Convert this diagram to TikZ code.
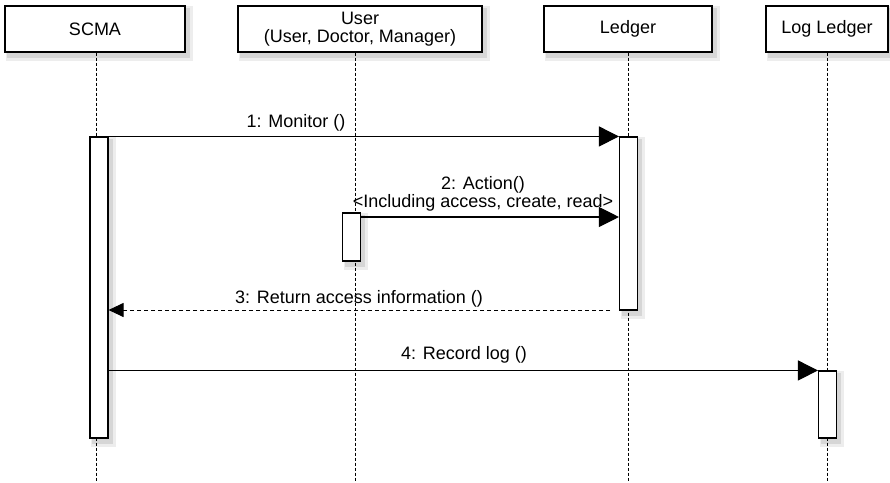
\documentclass[tikz,border=0pt]{standalone}
\usepackage{fontspec}
\setmainfont{Liberation Sans}
\usetikzlibrary{arrows.meta,backgrounds}
\pgfdeclarelayer{shade}
\pgfsetlayers{background,shade,main}
\begin{document}
\begin{tikzpicture}[x=1pt,y=-1pt,
  font=\fontsize{18}{18}\selectfont,
  head/.style={draw,line width=1.1pt,fill=white,minimum height=46pt,inner sep=0pt,align=center},
  bar/.style={draw,line width=1.1pt,fill=white,minimum width=18pt,inner sep=0pt},
  life/.style={line width=0.8pt,dash pattern=on 3pt off 2pt},
  msg/.style={line width=1.1pt,-{Triangle[length=20pt,width=20pt]}},
  ret/.style={line width=1pt,dash pattern=on 4pt off 3pt,-{Triangle[length=15pt,width=14pt]}},
  lbl/.style={inner sep=0pt,align=center},
  shadeA/.style={fill=black!7},
  shadeB/.style={fill=black!16}]
\begin{pgfonlayer}{background}
\path[fill=white] (0,0) rectangle (890,482);
\end{pgfonlayer}
\useasboundingbox (0,0) rectangle (890,482);
% heads
\node[head,minimum width=180pt] (scma) at (95,29) {SCMA};
\node[head,minimum width=244pt] (user) at (360,29) {User\\(User, Doctor, Manager)};
\node[head,minimum width=168pt] (ledger) at (628,29) {Ledger};
\node[head,minimum width=122pt] (log) at (827,29) {Log Ledger};
% activation bars
\node[bar,minimum height=301pt] (scmabar) at (99,287.5) {};
\node[bar,minimum height=173pt] (ledgerbar) at (628.5,223.5) {};
\node[bar,minimum height=48pt] (userbar) at (351.5,237) {};
\node[bar,minimum height=67pt] (logbar) at (827.5,404.5) {};
% shadows
\begin{pgfonlayer}{shade}
\foreach \n in {scma,user,ledger,log,scmabar,ledgerbar,userbar,logbar}{
  \fill[shadeA] ([xshift=2pt,yshift=-8pt]\n.south west) rectangle ([xshift=7pt,yshift=-1pt]\n.north east);
  \fill[shadeB] ([xshift=3pt,yshift=-5pt]\n.south west) rectangle ([xshift=4pt,yshift=-3pt]\n.north east);
}
\end{pgfonlayer}
% lifelines
\coordinate (scmaend) at (96,482);
\coordinate (userend) at (355,482);
\coordinate (ledgerend) at (628,482);
\coordinate (logend) at (827,482);
\begin{pgfonlayer}{shade}
\draw[life] (scma.south -| scmaend) -- (scmaend);
\draw[life] (user.south -| userend) -- (userend);
\draw[life] (ledger.south -| ledgerend) -- (ledgerend);
\draw[life] (log.south -| logend) -- (logend);
\end{pgfonlayer}
% messages
\draw[msg] (scmabar.north east) -- (ledgerbar.north west);
\node[lbl] (l1) at (296,123) {1: Monitor ()};
\coordinate (m2) at (360.5,217);
\draw[msg] (m2) -- (m2 -| ledgerbar.west);
\node[lbl,font=\fontsize{18}{15.5}\selectfont] (l2) at (483,194) {2: Action()\\<Including access, create, read>};
\coordinate (m3) at (610,310);
\draw[ret] (m3) -- (m3 -| scmabar.east);
\node[lbl] (l3) at (359,299) {3: Return access information ()};
\draw[msg] (scmabar.east |- logbar.north) -- (logbar.north west);
\node[lbl] (l4) at (464,355) {4: Record log ()};
\end{tikzpicture}
\end{document}
